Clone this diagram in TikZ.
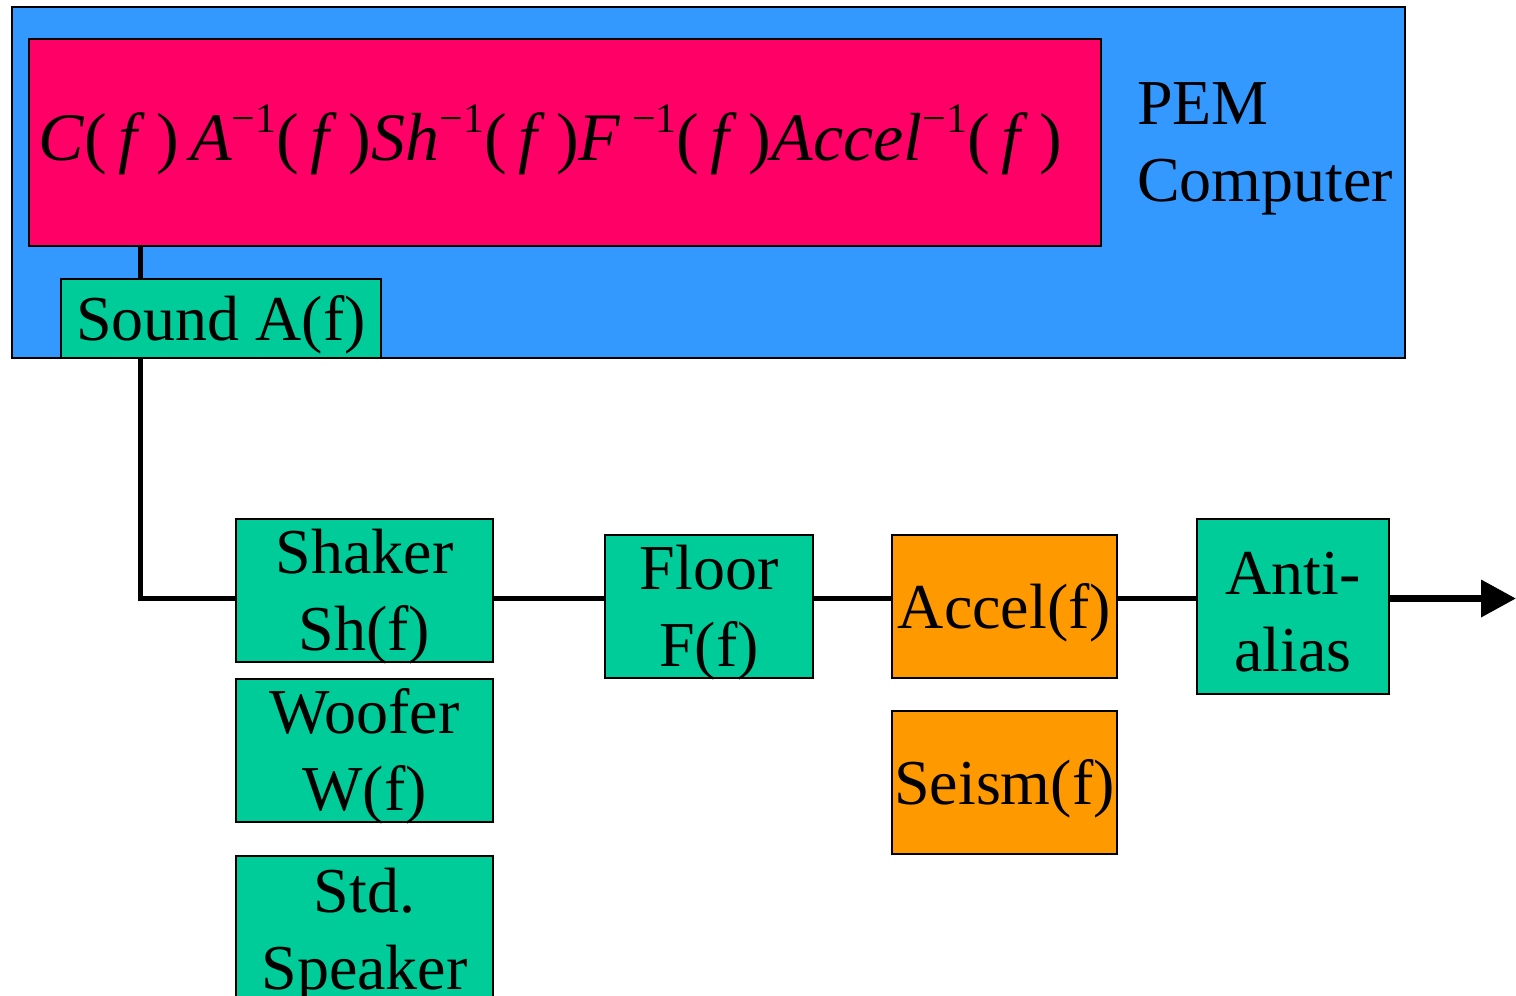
\documentclass[tikz,border=0pt]{standalone}
\usepackage{fontspec}
\setmainfont{Liberation Serif}
\usetikzlibrary{arrows.meta}
\definecolor{pcblue}{HTML}{3399FF}
\definecolor{fnpink}{HTML}{FF0066}
\definecolor{blkgreen}{HTML}{00CC99}
\definecolor{blkorange}{HTML}{FF9900}
\newcommand{\invexp}{\raisebox{0.42em}{\fontsize{42}{42}\selectfont −1}}
\newcommand{\ofF}{(\,\textit{f}\,)}
\begin{document}
\begin{tikzpicture}[x=1pt,y=-1pt,
  blk/.style={draw=black, line width=1.5pt, inner sep=0pt},
  txt/.style={inner sep=0pt, align=center, font=\fontsize{64}{77}\selectfont, yshift=-6pt},
  link/.style={draw=black, line width=5pt}]
\useasboundingbox (0,0) rectangle (1516,996);
\clip (0,0) rectangle (1516,996);

% computer enclosure and transfer-function block
\node[blk, fill=pcblue, minimum width=1393pt, minimum height=351pt] (pc) at (708.5,182.5) {};
\node[blk, fill=fnpink, minimum width=1072pt, minimum height=207pt] (fn) at (565,142.5) {};
\node[font=\fontsize{68}{68}\selectfont, inner sep=0pt, anchor=west] (formula) at (38,140)
  {\textit{C}\ofF\,\textit{A}\invexp\ofF\textit{Sh}\invexp\ofF\textit{F}\,\invexp\ofF\textit{Accel}\invexp\ofF};
\node[font=\fontsize{64}{77}\selectfont, inner sep=0pt, align=left, anchor=north west] (pemlbl) at (1137,82)
  {PEM\\Computer};

\node[blk, fill=blkgreen, minimum width=320pt, minimum height=79pt,
  label={[txt]center:Sound A(f)}] (snd) at (221,318.5) {};

% excitation sources
\node[blk, fill=blkgreen, minimum width=257pt, minimum height=143pt,
  label={[txt]center:{Shaker\\Sh(f)}}] (shaker) at (364.5,590.5) {};
\node[blk, fill=blkgreen, minimum width=257pt, minimum height=143pt,
  label={[txt]center:{Woofer\\W(f)}}] (woofer) at (364.5,750.5) {};
\node[blk, fill=blkgreen, minimum width=257pt, minimum height=143pt, anchor=north] (spk) at (364.5,855) {};
\node[txt, yshift=0pt, anchor=north] (spklbl) at (364.5,862) {Std.\\Speaker};

% signal chain
\node[blk, fill=blkgreen, minimum width=208pt, minimum height=143pt,
  label={[txt]center:{Floor\\F(f)}}] (floor) at (709,606.5) {};
\node[blk, fill=blkorange, minimum width=225pt, minimum height=143pt,
  label={[txt]center:Accel(f)}] (accel) at (1004.5,606.5) {};
\node[blk, fill=blkorange, minimum width=225pt, minimum height=143pt,
  label={[txt]center:Seism(f)}] (seism) at (1004.5,782.5) {};
\node[blk, fill=blkgreen, minimum width=192pt, minimum height=175pt,
  label={[txt]center:{Anti-\\alias}}] (aa) at (1293,606.5) {};

\coordinate (tapx) at (140,0);
\coordinate (rowy) at (0,598.5);
\coordinate (outend) at (1516,598.5);

\draw[link] (fn.south -| tapx) -- (snd.north -| tapx);
\draw[link] (snd.south -| tapx) |- (shaker.west |- rowy);
\draw[link] (shaker.east |- rowy) -- (floor.west |- rowy);
\draw[link] (floor.east |- rowy) -- (accel.west |- rowy);
\draw[link] (accel.east |- rowy) -- (aa.west |- rowy);
\draw[draw=black, line width=7pt, -{Triangle[length=35pt,width=36pt]}] (aa.east |- rowy) -- (outend);
\end{tikzpicture}
\end{document}
